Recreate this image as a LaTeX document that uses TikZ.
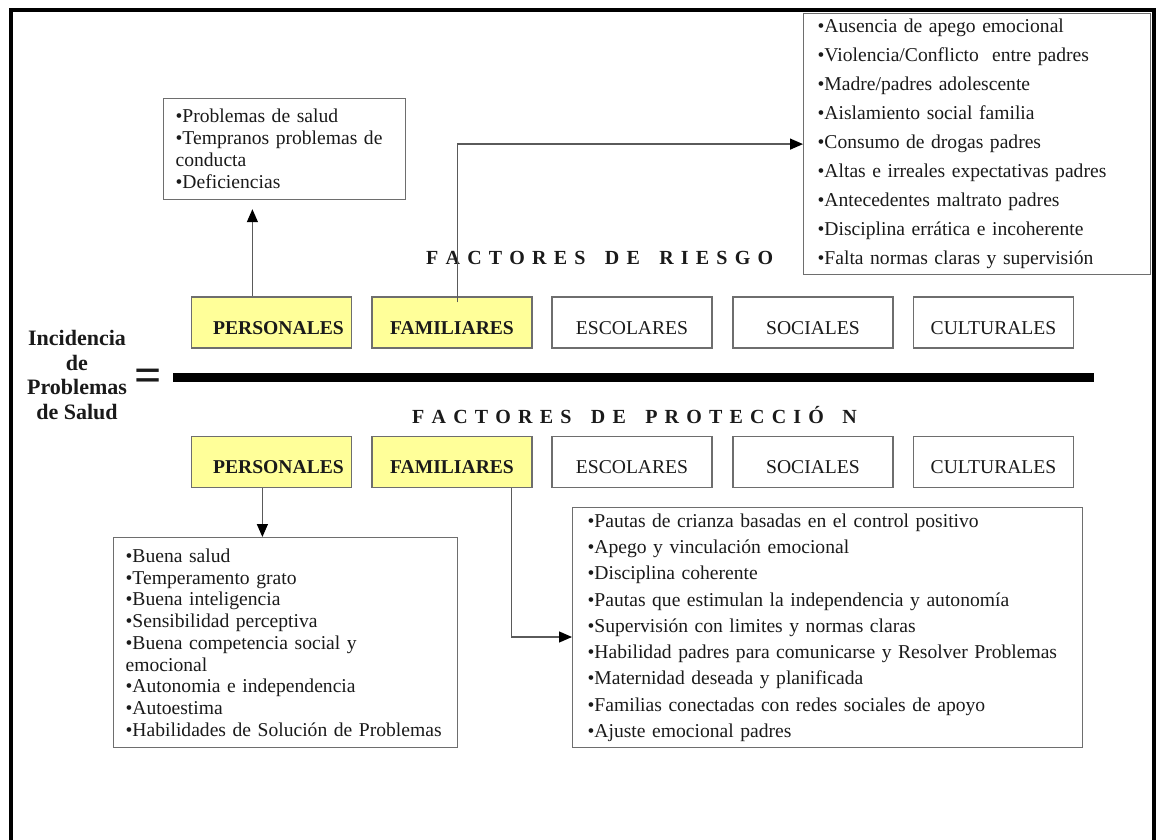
\documentclass[tikz,border=0pt]{standalone}
\usepackage{fontspec}
\setmainfont{Liberation Serif}
\usetikzlibrary{arrows.meta,calc}

\definecolor{boxline}{HTML}{6E6E6E}
\definecolor{hilite}{HTML}{FFFF99}
\definecolor{ink}{HTML}{1A1A1A}
\definecolor{wire}{HTML}{5A5A5A}

% letter-spaced heading: a kern after every token, ~ stands for a word gap
\def\lsp#1{\lspA#1\relax}
\def\lspA#1{\ifx#1\relax\else#1\kern7.2pt\expandafter\lspA\fi}
\newcommand\widegap{\kern4pt}

\begin{document}
\begin{tikzpicture}[x=1pt,y=-1pt,
  every node/.style={text=ink},
  factor/.style={draw=boxline, line width=1.2pt, minimum width=160pt,
    minimum height=51pt, inner sep=0pt, text height=23pt, text depth=0pt,
    font=\fontsize{19.6}{22}\selectfont},
  hot/.style={factor, fill=hilite, font=\fontsize{19.6}{22}\selectfont\bfseries},
  listbox/.style={draw=boxline, line width=1.2pt, anchor=north west,
    align=left, inner ysep=0pt},
  heading/.style={anchor=base west, inner sep=0pt,
    font=\fontsize{20}{22}\selectfont\bfseries},
  wire/.style={draw=wire, line width=1.3pt},
  tip/.style={-{Triangle[length=13pt,width=11pt,color=black]}}
]
\useasboundingbox (0,0) rectangle (1157,840);

% outer frame
\draw[line width=4pt] (11,845) -- (11,10) -- (1154,10) -- (1154,845);

% left-hand term
\node[align=center, font=\fontsize{22}{24.5}\selectfont\bfseries] (lhs) at (77,375)
  {Incidencia\\de\\Problemas\\de Salud};
\node[font=\fontsize{48}{48}\selectfont\bfseries, inner sep=0pt] (eq) at (148,380) {=};

% fraction bar
\coordinate (barL) at (173,377.5);
\coordinate (barR) at (1094,377.5);
\draw[line width=9pt] (barL) -- (barR);

% headings
\node[heading] (hr) at (426,264.6) {\lsp{FACTORES~DE~RIESGO}};
\node[heading] (hp) at (412,423.6) {\lsp{FACTORES~DE~PROTECCIÓ\widegap N}};

% risk factors
\node[hot]    (rp) at (271.5,322.5) {\hspace*{14pt}PERSONALES};
\node[hot]    (rf) at (452,322.5)   {FAMILIARES};
\node[factor] (re) at (632,322.5)   {ESCOLARES};
\node[factor] (rs) at (813,322.5)   {SOCIALES};
\node[factor] (rc) at (993.5,322.5) {CULTURALES};

% protection factors
\node[hot]    (pp) at (271.5,462) {\hspace*{14pt}PERSONALES};
\node[hot]    (pf) at (452,462)   {FAMILIARES};
\node[factor] (pe) at (632,462)   {ESCOLARES};
\node[factor] (ps) at (813,462)   {SOCIALES};
\node[factor] (pc) at (993.5,462) {CULTURALES};

% detail lists
\node[listbox, minimum width=242pt, minimum height=101pt, inner xsep=12pt,
  text width=218pt, font=\fontsize{19.6}{22}\selectfont] (rpl) at (163,98)
  {•Problemas de salud\\•Tempranos problemas de\\conducta\\•Deficiencias};

\node[listbox, minimum width=347pt, minimum height=261pt, inner xsep=14pt,
  text width=319pt, font=\fontsize{19.6}{29}\selectfont] (rfl) at (803,13)
  {•Ausencia de apego emocional\\
   •Violencia/Conflicto\ \ entre padres\\
   •Madre/padres adolescente\\
   •Aislamiento social familia\\
   •Consumo de drogas padres\\
   •Altas e irreales expectativas padres\\
   •Antecedentes maltrato padres\\
   •Disciplina errática e incoherente\\
   •Falta normas claras y supervisión};

\node[listbox, minimum width=344pt, minimum height=210pt, inner xsep=12pt,
  text width=320pt, font=\fontsize{19.6}{21.7}\selectfont] (ppl) at (113,537)
  {•Buena salud\\
   •Temperamento grato\\
   •Buena inteligencia\\
   •Sensibilidad perceptiva\\
   •Buena competencia social y\\
   emocional\\
   •Autonomia e independencia\\
   •Autoestima\\
   \mbox{•Habilidades de Solución de Problemas}};

\node[listbox, minimum width=510pt, minimum height=240pt, inner xsep=15pt,
  text width=480pt, font=\fontsize{19.6}{26.3}\selectfont] (pfl) at (572,507)
  {•Pautas de crianza basadas en el control positivo\\
   •Apego y vinculación emocional\\
   •Disciplina coherente\\
   •Pautas que estimulan la independencia y autonomía\\
   •Supervisión con limites y normas claras\\
   •Habilidad padres para comunicarse y Resolver Problemas\\
   •Maternidad deseada y planificada\\
   •Familias conectadas con redes sociales de apoyo\\
   •Ajuste emocional padres};

% connector anchor points on the factor boxes
\coordinate (rpTop) at ($(rp.north west)+(61.5,0)$);
\coordinate (rfTop) at ($(rf.north west)+(86,6)$);
\coordinate (ppBot) at ($(pp.south west)+(71.5,0)$);
\coordinate (pfBot) at ($(pf.south west)+(140,0)$);
\coordinate (pflIn) at ($(pfl.north west)+(0,130)$);

% connectors
\draw[wire, tip, shorten >=9pt] (rpTop) -- (rpTop |- rpl.south);
\draw[wire, tip] (rfTop) |- (rfl.west);
\draw[wire, tip] (ppBot) -- (ppBot |- ppl.north);
\draw[wire, tip] (pfBot) |- (pflIn);
\end{tikzpicture}
\end{document}
